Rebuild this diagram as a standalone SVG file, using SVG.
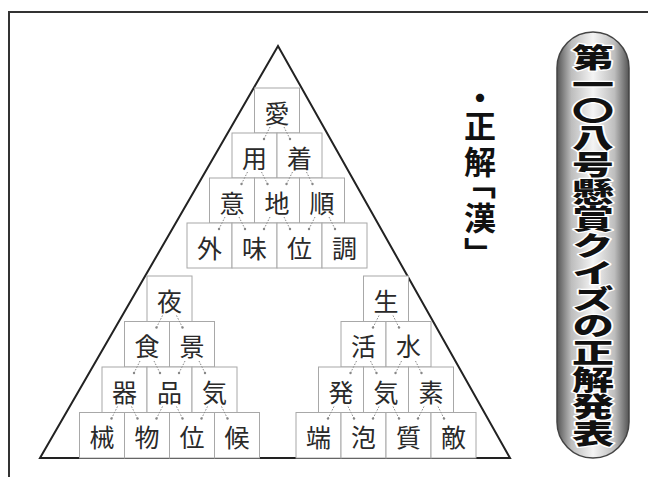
<svg xmlns="http://www.w3.org/2000/svg" xmlns:xlink="http://www.w3.org/1999/xlink" width="648" height="477" viewBox="0 0 648 477">
<style>
.box{fill:#fff;stroke:#a8a8a8;stroke-width:1}
.k{font-family:"Noto Sans CJK JP","Noto Sans CJK SC",sans-serif;font-size:25px;fill:#2a2a2a;text-anchor:middle;dominant-baseline:central}
.conn{stroke:#888;stroke-width:1;stroke-dasharray:1.5 1.5;fill:none}
.dot{fill:#888}
</style>
<defs>
<linearGradient id="pill" x1="0" y1="0" x2="1" y2="0">
<stop offset="0" stop-color="#555"/>
<stop offset="0.2" stop-color="#bdbdbd"/>
<stop offset="0.5" stop-color="#f4f4f4"/>
<stop offset="0.8" stop-color="#bdbdbd"/>
<stop offset="1" stop-color="#555"/>
</linearGradient>
<g id="cp">
<path class="conn" d="M-7,-6 L-13,6 M7,-6 L13,6"/>
<circle class="dot" cx="-13" cy="6" r="1.2"/>
<circle class="dot" cx="13" cy="6" r="1.2"/>
</g>
</defs>
<rect width="648" height="477" fill="#fff"/>
<path d="M9,477 V12 H648" fill="none" stroke="#333" stroke-width="2"/>
<path d="M40,458 L278,46 L510,458 Z" fill="none" stroke="#222" stroke-width="2"/>

<g id="top">
<g id="n-ai"><rect class="box" x="254.5" y="88" width="45" height="45"/><text class="k" x="277" y="111.5">愛</text></g>
<g id="n-you"><rect class="box" x="232" y="133" width="45" height="45"/><text class="k" x="254.5" y="156.5">用</text></g>
<g id="n-chaku"><rect class="box" x="277" y="133" width="45" height="45"/><text class="k" x="299.5" y="156.5">着</text></g>
<g id="n-i"><rect class="box" x="209.5" y="178" width="45" height="45"/><text class="k" x="232" y="201.5">意</text></g>
<g id="n-chi"><rect class="box" x="254.5" y="178" width="45" height="45"/><text class="k" x="277" y="201.5">地</text></g>
<g id="n-jun"><rect class="box" x="299.5" y="178" width="45" height="45"/><text class="k" x="322" y="201.5">順</text></g>
<g id="n-gai"><rect class="box" x="187" y="223" width="45" height="45"/><text class="k" x="209.5" y="246.5">外</text></g>
<g id="n-mi"><rect class="box" x="232" y="223" width="45" height="45"/><text class="k" x="254.5" y="246.5">味</text></g>
<g id="n-i2"><rect class="box" x="277" y="223" width="45" height="45"/><text class="k" x="299.5" y="246.5">位</text></g>
<g id="n-chou"><rect class="box" x="322" y="223" width="45" height="45"/><text class="k" x="344.5" y="246.5">調</text></g>
</g>

<g id="left">
<g id="n-yoru"><rect class="box" x="147" y="276" width="45" height="45.5"/><text class="k" x="169.5" y="299.5">夜</text></g>
<g id="n-shoku"><rect class="box" x="124.5" y="321.5" width="45" height="45.5"/><text class="k" x="147" y="345">食</text></g>
<g id="n-kei"><rect class="box" x="169.5" y="321.5" width="45" height="45.5"/><text class="k" x="192" y="345">景</text></g>
<g id="n-ki"><rect class="box" x="102" y="367" width="45" height="45.5"/><text class="k" x="124.5" y="390.5">器</text></g>
<g id="n-hin"><rect class="box" x="147" y="367" width="45" height="45.5"/><text class="k" x="169.5" y="390.5">品</text></g>
<g id="n-ki2"><rect class="box" x="192" y="367" width="45" height="45.5"/><text class="k" x="214.5" y="390.5">気</text></g>
<g id="n-kai"><rect class="box" x="79.5" y="412.5" width="45" height="45.5"/><text class="k" x="102" y="436">械</text></g>
<g id="n-butsu"><rect class="box" x="124.5" y="412.5" width="45" height="45.5"/><text class="k" x="147" y="436">物</text></g>
<g id="n-i3"><rect class="box" x="169.5" y="412.5" width="45" height="45.5"/><text class="k" x="192" y="436">位</text></g>
<g id="n-kou"><rect class="box" x="214.5" y="412.5" width="45" height="45.5"/><text class="k" x="237" y="436">候</text></g>
</g>

<g id="right">
<g id="n-sei"><rect class="box" x="363.5" y="276" width="45" height="45.5"/><text class="k" x="386" y="299.5">生</text></g>
<g id="n-katsu"><rect class="box" x="341" y="321.5" width="45" height="45.5"/><text class="k" x="363.5" y="345">活</text></g>
<g id="n-sui"><rect class="box" x="386" y="321.5" width="45" height="45.5"/><text class="k" x="408.5" y="345">水</text></g>
<g id="n-hatsu"><rect class="box" x="318.5" y="367" width="45" height="45.5"/><text class="k" x="341" y="390.5">発</text></g>
<g id="n-ki3"><rect class="box" x="363.5" y="367" width="45" height="45.5"/><text class="k" x="386" y="390.5">気</text></g>
<g id="n-so"><rect class="box" x="408.5" y="367" width="45" height="45.5"/><text class="k" x="431" y="390.5">素</text></g>
<g id="n-tan"><rect class="box" x="296" y="412.5" width="45" height="45.5"/><text class="k" x="318.5" y="436">端</text></g>
<g id="n-hou"><rect class="box" x="341" y="412.5" width="45" height="45.5"/><text class="k" x="363.5" y="436">泡</text></g>
<g id="n-shitsu"><rect class="box" x="386" y="412.5" width="45" height="45.5"/><text class="k" x="408.5" y="436">質</text></g>
<g id="n-teki"><rect class="box" x="431" y="412.5" width="45" height="45.5"/><text class="k" x="453.5" y="436">敵</text></g>
</g>

<g id="connectors">
<use href="#cp" x="277" y="133"/>
<use href="#cp" x="254.5" y="178"/><use href="#cp" x="299.5" y="178"/>
<use href="#cp" x="232" y="223"/><use href="#cp" x="277" y="223"/><use href="#cp" x="322" y="223"/>
<use href="#cp" x="169.5" y="321.5"/>
<use href="#cp" x="147" y="367"/><use href="#cp" x="192" y="367"/>
<use href="#cp" x="124.5" y="412.5"/><use href="#cp" x="169.5" y="412.5"/><use href="#cp" x="214.5" y="412.5"/>
<use href="#cp" x="386" y="321.5"/>
<use href="#cp" x="363.5" y="367"/><use href="#cp" x="408.5" y="367"/>
<use href="#cp" x="341" y="412.5"/><use href="#cp" x="386" y="412.5"/><use href="#cp" x="431" y="412.5"/>
</g>

<g id="answer">
<text x="480" y="90" writing-mode="vertical-rl" style="font-family:'Noto Sans CJK JP','Noto Sans CJK SC',sans-serif;font-size:32px;font-weight:bold;fill:#111;letter-spacing:4px;font-feature-settings:'vpal'">・正解「漢」</text>
</g>

<g id="banner">
<rect x="557" y="32" width="72" height="426" rx="36" ry="36" fill="url(#pill)" stroke="#444" stroke-width="1.5"/>
<text transform="translate(593,44) scale(1,0.64)" writing-mode="vertical-rl" style="font-family:'Noto Sans CJK JP','Noto Sans CJK SC',sans-serif;font-size:42px;font-weight:900;fill:#111;stroke:#fff;stroke-width:4;paint-order:stroke;stroke-linejoin:round">第一〇八号懸賞クイズの正解発表</text>
</g>
</svg>
